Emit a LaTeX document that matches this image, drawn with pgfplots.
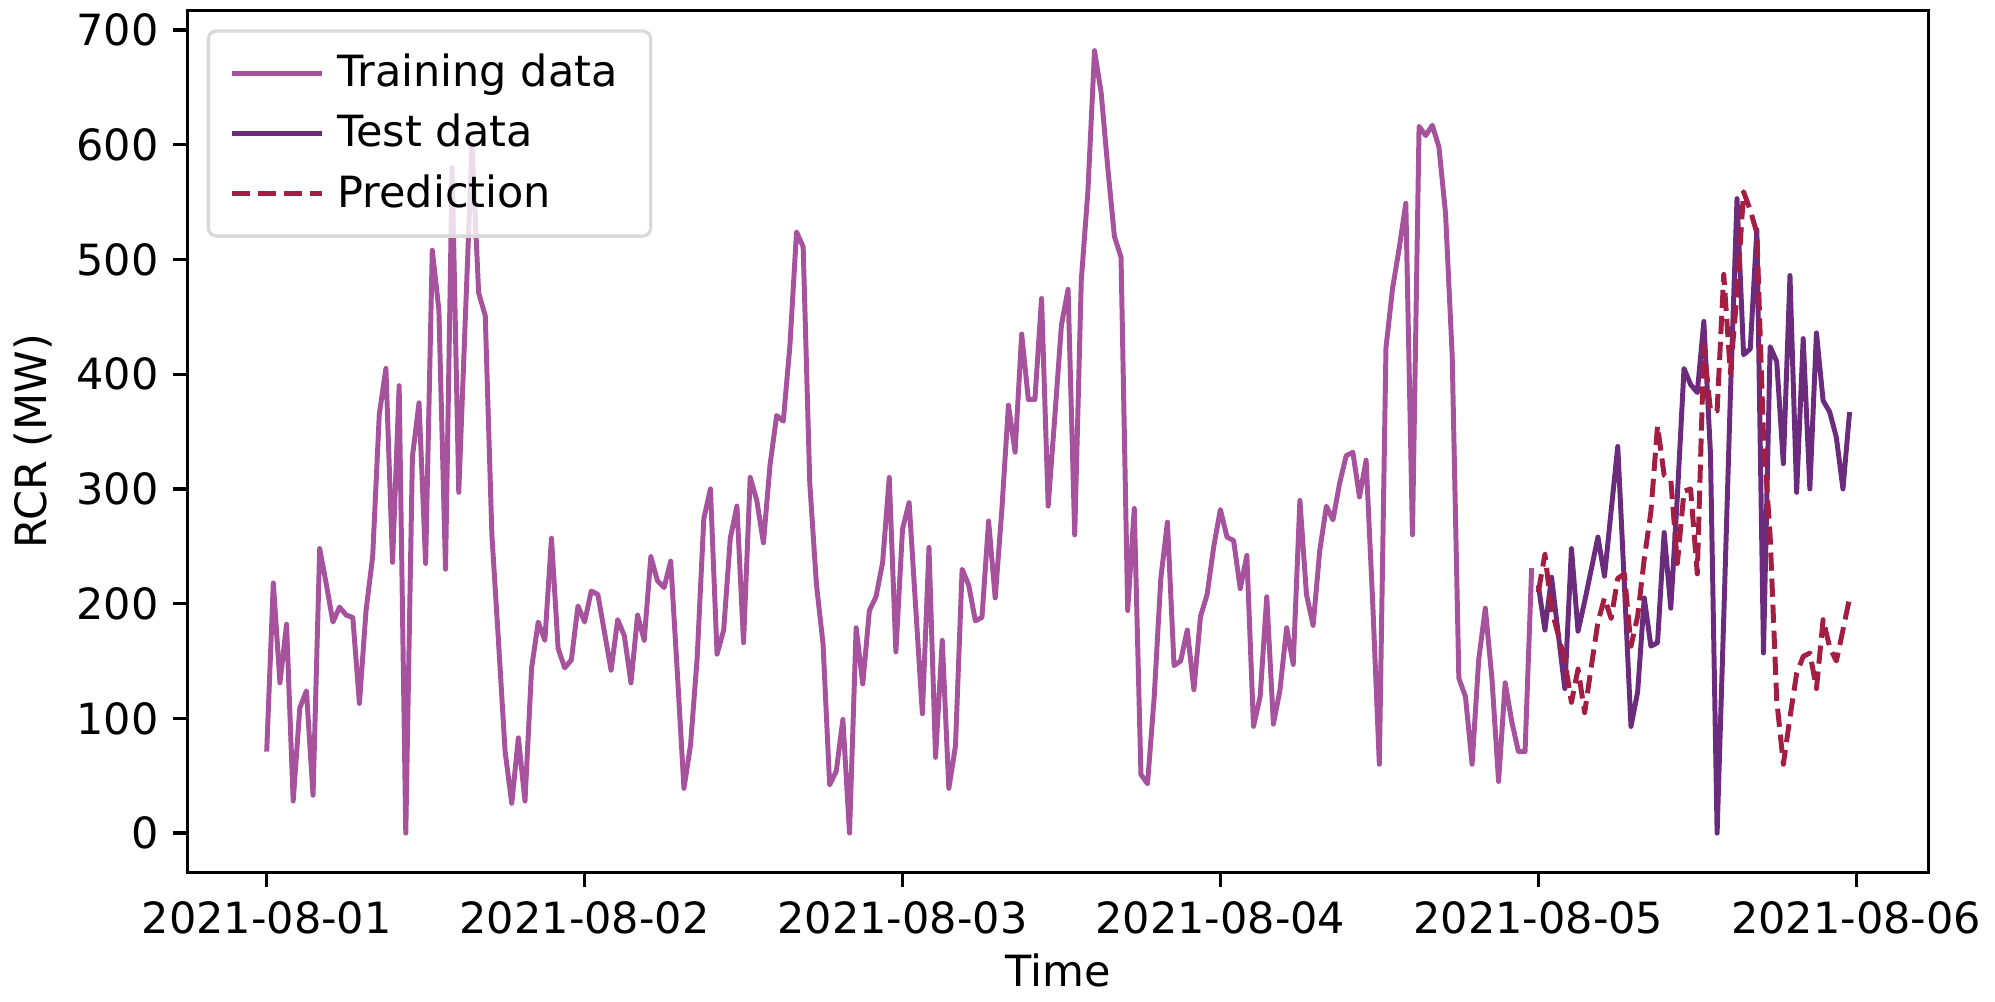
\documentclass[border=0pt]{standalone}
\usepackage{fontspec}
\setmainfont{DejaVu Sans}
\usepackage{pgfplots}
\usepackage{pgfplotstable}
\pgfplotsset{compat=1.18}

\definecolor{train}{RGB}{166,82,157}
\definecolor{test}{RGB}{107,44,125}
\definecolor{pred}{RGB}{163,30,66}

% half-hourly RCR values, 2021-08-01 00:00 onwards
\pgfplotstableread[row sep=\\]{rcr\\
71\\218\\131\\182\\28\\109\\124\\33\\248\\217\\184\\197\\190\\188\\113\\194\\241\\365\\405\\236\\390\\0\\328\\375\\
235\\508\\456\\230\\580\\297\\450\\600\\471\\451\\260\\167\\71\\26\\83\\28\\144\\184\\168\\257\\161\\144\\151\\198\\
184\\211\\208\\175\\142\\186\\172\\131\\190\\168\\241\\220\\214\\237\\140\\39\\77\\153\\274\\300\\156\\177\\257\\285\\
166\\310\\290\\253\\321\\364\\359\\425\\524\\511\\305\\217\\165\\42\\54\\99\\0\\179\\130\\194\\206\\236\\310\\158\\
265\\288\\196\\104\\249\\66\\168\\39\\76\\230\\216\\185\\188\\272\\205\\282\\373\\332\\435\\378\\378\\466\\285\\363\\
443\\474\\260\\482\\560\\682\\645\\580\\520\\502\\194\\283\\51\\43\\118\\222\\271\\146\\150\\177\\125\\189\\208\\250\\
282\\258\\255\\213\\242\\93\\119\\206\\95\\125\\179\\147\\290\\208\\181\\246\\285\\273\\305\\329\\332\\293\\325\\200\\
60\\423\\475\\510\\549\\260\\616\\608\\617\\598\\540\\416\\135\\119\\60\\151\\196\\135\\45\\131\\97\\71\\71\\231\\
}\traindata

% test day, 2021-08-05 00:00 onwards
\pgfplotstableread[row sep=\\]{rcr\\
216\\177\\223\\174\\126\\248\\176\\202\\230\\258\\224\\281\\337\\216\\93\\123\\205\\163\\166\\262\\196\\294\\405\\391\\
384\\446\\330\\0\\188\\380\\553\\417\\422\\526\\157\\424\\411\\322\\486\\297\\431\\300\\436\\377\\367\\345\\300\\367\\
}\testdata

\pgfplotstableread[row sep=\\]{rcr\\
210\\243\\195\\173\\150\\114\\143\\105\\145\\184\\205\\187\\222\\226\\163\\189\\239\\280\\355\\312\\308\\235\\298\\300\\
226\\425\\368\\368\\487\\401\\470\\559\\543\\523\\345\\259\\116\\60\\101\\139\\154\\157\\126\\186\\162\\150\\177\\205\\
}\preddata

\begin{document}
\begin{tikzpicture}
\begin{axis}[
    width=421pt, height=208.4pt,
    scale only axis,
    font=\fontsize{10.4}{12.5}\selectfont,
    xmin=-0.249, xmax=5.228,
    ymin=-34.15, ymax=717.15,
    xtick={0,1,2,3,4,5},
    xticklabels={2021-08-01,2021-08-02,2021-08-03,2021-08-04,2021-08-05,2021-08-06},
    ytick={0,100,...,700},
    /pgf/number format/assume math mode=true,
    tick align=outside,
    tick pos=left,
    major tick length=3.5pt,
    every tick/.style={black, line width=0.8pt},
    axis line style={line width=0.8pt},
    xlabel={Time},
    ylabel={RCR (MW)},
    xlabel style={yshift=2pt},
    ylabel style={yshift=-1pt},
    legend cell align=left,
    legend style={
        at={(0.011,0.978)}, anchor=north west,
        draw=black!15, line width=0.8pt, rounded corners=2pt,
        fill=white, fill opacity=0.8, text opacity=1,
        row sep=1.2pt, inner xsep=5pt, inner ysep=3.5pt,
        nodes={inner xsep=3pt},
        font=\fontsize{10.4}{12.5}\selectfont,
    },
    legend image code/.code={\draw[#1] (0pt,0pt) -- (22pt,0pt);},
]

\addplot[color=train, line width=1.2pt, line join=round] table[x expr=\coordindex/48, y=rcr] {\traindata};
\addlegendentry{Training data}

\addplot[color=test, line width=1.2pt, line join=round] table[x expr=(\coordindex+192)/48, y=rcr] {\testdata};
\addlegendentry{Test data}

\addplot[color=pred, line width=1.2pt, line join=round, dash pattern=on 4.4pt off 1.9pt] table[x expr=(\coordindex+192)/48, y=rcr] {\preddata};
\addlegendentry{Prediction}

\end{axis}
\end{tikzpicture}
\end{document}
